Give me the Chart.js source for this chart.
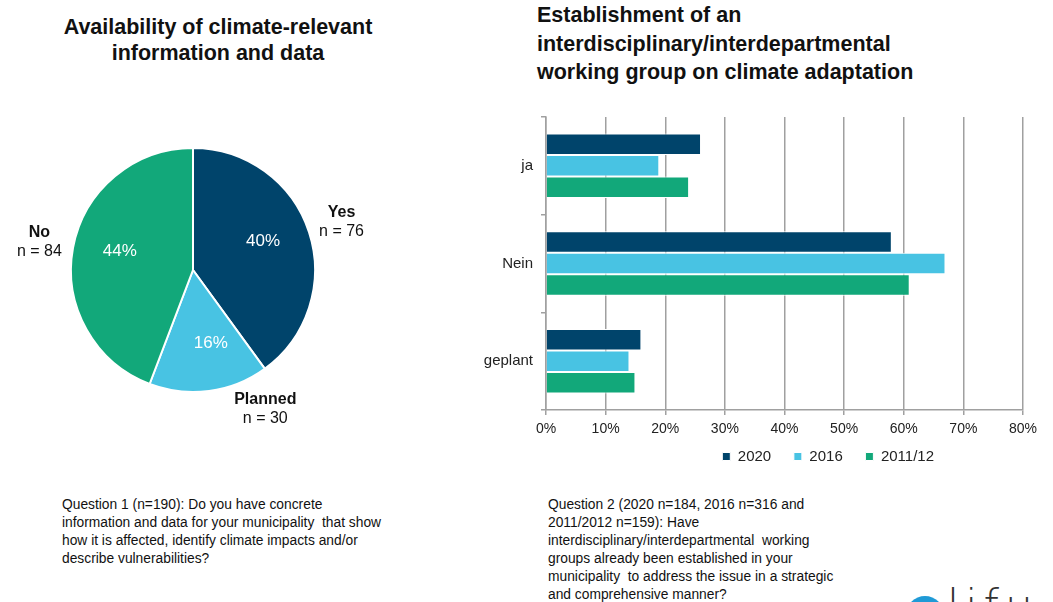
<!DOCTYPE html>
<html>
<head>
<meta charset="utf-8">
<script src="https://cdn.jsdelivr.net/npm/chart.js@4.4.1/dist/chart.umd.min.js"></script>
<style>
  html, body { margin: 0; padding: 0; background: #fff; overflow: hidden; }
  body { width: 1053px; height: 602px; position: relative; font-family: "Liberation Sans", Arial, sans-serif; color: #111; }
  .title { position: absolute; font-weight: bold; font-size: 21.5px; line-height: 26px; color: #111; white-space: nowrap; }
  .note { position: absolute; font-size: 13.8px; line-height: 18px; color: #111; white-space: nowrap; }
  #pieBox { position: absolute; left: 0; top: 100px; width: 440px; height: 340px; }
  #barBox { position: absolute; left: 480px; top: 100px; width: 708px; height: 374px; }
  .logoDot { position: absolute; left: 906px; top: 596px; width: 38px; height: 38px; border-radius: 50%; background: #1f9ad6; }
  .logoTxt { position: absolute; left: 947px; top: 580px; font-size: 44px; font-weight: 300; color: #333; font-family: "DejaVu Sans", sans-serif; letter-spacing: 6px; }
</style>
</head>
<body>
<div class="title" style="left:18px; top:14px; width:400px; text-align:center;">Availability of climate-relevant<br>information and data</div>
<div class="title" style="left:537px; top:1px; line-height:28.5px;">Establishment of an<br>interdisciplinary/interdepartmental<br>working group on climate adaptation</div>

<div id="pieBox"><canvas id="pie"></canvas></div>
<div id="barBox"><canvas id="bar"></canvas></div>

<div class="note" style="left:62px; top:496px;">Question 1 (n=190): Do you have concrete<br>information and data for your municipality&nbsp; that show<br>how it is affected, identify climate impacts and/or<br>describe vulnerabilities?</div>
<div class="note" style="left:548px; top:496px;">Question 2 (2020 n=184, 2016 n=316 and<br>2011/2012 n=159): Have<br>interdisciplinary/interdepartmental&nbsp; working<br>groups already been established in your<br>municipality&nbsp; to address the issue in a strategic<br>and comprehensive manner?</div>

<div class="logoDot"></div>
<div class="logoTxt">lifu</div>

<script>
// pie: question 1
const pieLabels = ['Yes', 'Planned', 'No']
const pieCounts = [76, 30, 84]
const piePercent = ['40%', '16%', '44%']
const pieColors = ['#00446b', '#48c3e3', '#12a87a']

// bars: question 2
const barCategories = ['ja', 'Nein', 'geplant']
const barYears = ['2020', '2016', '2011/12']
const values2020 = [26, 58, 16]
const values2016 = [19, 67, 14]
const values2011 = [24, 61, 15]
const xTicks = [0, 10, 20, 30, 40, 50, 60, 70, 80]

const fontFam = '"Liberation Sans", Arial, sans-serif'
Chart.defaults.font.family = fontFam
Chart.defaults.color = '#222'

// labels inside and outside the slices
const pieLabelPlugin = {
    id: 'pieLabels',
    afterDatasetsDraw(chart, args, opts) {
        const ctx = chart.ctx
        const meta = chart.getDatasetMeta(0)
        ctx.save()
        ctx.textAlign = 'center'
        ctx.textBaseline = 'middle'
        meta.data.forEach((arc, i) => {
            const mid = (arc.startAngle + arc.endAngle) / 2
            const r = arc.outerRadius
            // percentage
            const pa = mid + (opts.innerShift[i] || 0) * Math.PI / 180
            ctx.fillStyle = '#fff'
            ctx.font = '17px ' + fontFam
            ctx.fillText(piePercent[i], arc.x + Math.cos(pa) * r * 0.62, arc.y + Math.sin(pa) * r * 0.62)
            // name + n
            const a = mid + (opts.shift[i] || 0) * Math.PI / 180
            const ox = arc.x + Math.cos(a) * r * 1.28
            const oy = arc.y + Math.sin(a) * r * 1.28
            ctx.fillStyle = '#111'
            ctx.font = 'bold 16px ' + fontFam
            ctx.fillText(pieLabels[i], ox, oy - 9)
            ctx.font = '16px ' + fontFam
            ctx.fillText('n = ' + pieCounts[i], ox, oy + 10)
        })
        ctx.restore()
    }
}

new Chart(document.getElementById('pie'), {
    type: 'pie',
    data: {
        labels: pieLabels,
        datasets: [{
            data: pieCounts,
            backgroundColor: pieColors,
            borderColor: '#fff',
            borderWidth: 2
        }]
    },
    options: {
        responsive: true,
        maintainAspectRatio: false,
        animation: false,
        layout: { padding: { left: 70, right: 124, top: 47, bottom: 47 } },
        plugins: {
            legend: { display: false },
            tooltip: { enabled: false },
            pieLabels: { shift: [0, -20, 0], innerShift: [-4, -6, 4] }
        }
    },
    plugins: [pieLabelPlugin]
})

const gridGray = '#a0a0a0'
const defaultLegendLabels = Chart.defaults.plugins.legend.labels.generateLabels

new Chart(document.getElementById('bar'), {
    type: 'bar',
    data: {
        labels: barCategories,
        datasets: [
            { label: barYears[0], data: values2020, backgroundColor: pieColors[0] },
            { label: barYears[1], data: values2016, backgroundColor: pieColors[1] },
            { label: barYears[2], data: values2011, backgroundColor: pieColors[2] }
        ]
    },
    options: {
        indexAxis: 'y',
        responsive: true,
        maintainAspectRatio: false,
        animation: false,
        datasets: {
            bar: {
                borderColor: '#fff',
                borderWidth: 1,
                borderSkipped: 'start',
                categoryPercentage: 0.66,
                barPercentage: 1
            }
        },
        layout: { padding: { top: 7, left: 0, right: 0, bottom: 0 } },
        scales: {
            x: {
                min: 0,
                max: 80,
                afterBuildTicks: s => { s.ticks = xTicks.map(v => ({ value: v })) },
                ticks: { callback: v => v + '%', font: { size: 14 }, padding: 6, maxRotation: 0 },
                grid: { color: gridGray, lineWidth: 1.5, tickLength: 5 },
                border: { color: gridGray, width: 1.5 },
                afterFit: s => { s.height = 28 }
            },
            y: {
                ticks: { font: { size: 15 }, padding: 8 },
                grid: { drawOnChartArea: false, offset: true, color: gridGray, lineWidth: 1.5, tickLength: 5 },
                border: { color: gridGray, width: 1.5 },
                afterFit: s => { s.width = 66 }
            },
            // empty right-hand box, keeps the legend centred where the original has it
            yRight: {
                type: 'category',
                position: 'right',
                ticks: { display: false },
                grid: { display: false },
                border: { display: false },
                afterFit: s => { s.width = 165 }
            }
        },
        plugins: {
            legend: {
                position: 'bottom',
                labels: {
                    boxWidth: 8,
                    boxHeight: 8,
                    font: { size: 15 },
                    padding: 11,
                    color: '#222',
                    // a little more room between the items than the vertical padding gives
                    generateLabels: chart => defaultLegendLabels(chart).map(l => ({ ...l, text: l.text + '\u2002 ' }))
                }
            },
            tooltip: { enabled: false }
        }
    }
})
</script>
</body>
</html>
